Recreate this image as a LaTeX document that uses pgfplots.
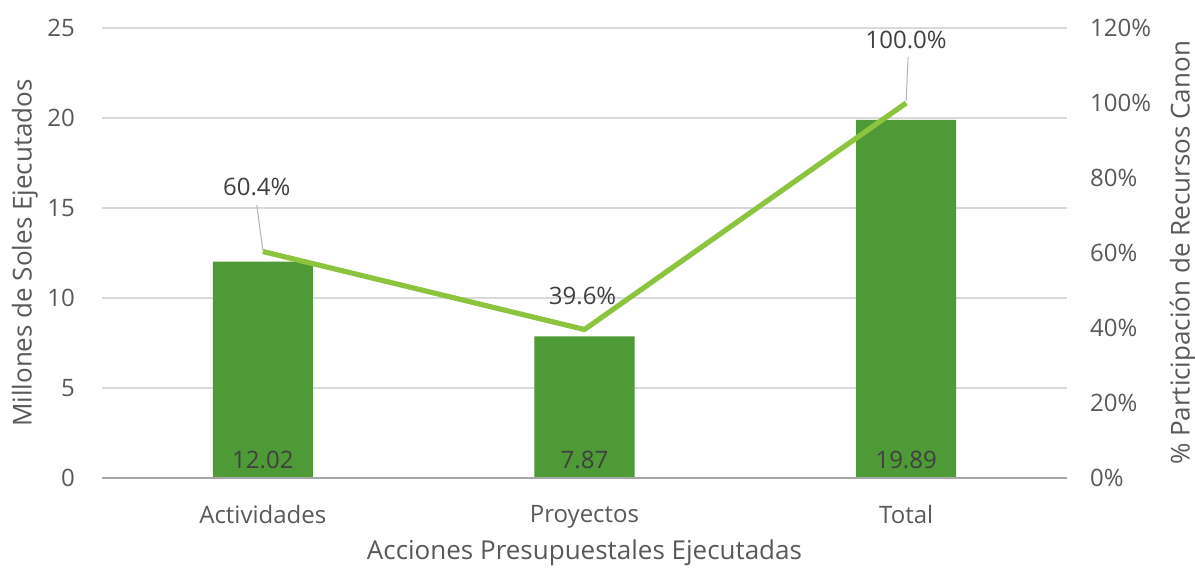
\documentclass[border=0pt]{standalone}
\usepackage{fontspec}
\setmainfont{Open Sans}
\usepackage{pgfplots}
\pgfplotsset{compat=1.18}
\definecolor{bargreen}{HTML}{4E9A36}
\definecolor{linegreen}{HTML}{8DC43F}
\definecolor{tickgray}{HTML}{595959}
\definecolor{gridgray}{HTML}{D9D9D9}
\definecolor{labelgray}{HTML}{404040}
\begin{document}
\begin{tikzpicture}
\begin{axis}[
  scale only axis, width=482.5pt, height=225pt,
  xmin=-0.5, xmax=2.5, ymin=0, ymax=25,
  xtick={0,1,2}, xticklabels={Actividades,Proyectos,Total},
  ytick={0,5,...,25},
  ymajorgrids, grid style={gridgray, line width=0.6pt},
  axis line style={draw=none},
  major tick length=0pt,
  clip=false,
  /pgf/number format/assume math mode=true,
  tick label style={font=\fontsize{12}{14}\selectfont, text=tickgray},
  yticklabel style={anchor=east, xshift=-10pt},
  xticklabel style={yshift=-10pt},
  xlabel={Acciones Presupuestales Ejecutadas},
  ylabel={Millones de Soles Ejecutados},
  label style={font=\fontsize{13}{15}\selectfont, text=tickgray},
  xlabel style={at={(axis description cs:0.5,-0.1667)}, anchor=center},
  ylabel style={at={(axis description cs:-0.0798,0.5)}, anchor=center},
]
\addplot[ybar, bar width=50pt, bar shift=0pt, fill=bargreen, draw=none]
  coordinates {(0,12.02) (1,7.87) (2,19.89)};
\draw[gray!70, line width=0.6pt] (axis cs:-0.5,0) -- (axis cs:2.5,0);
\node[font=\fontsize{12}{14}\selectfont, text=labelgray] at (axis cs:0,1) {12.02};
\node[font=\fontsize{12}{14}\selectfont, text=labelgray] at (axis cs:1,1) {7.87};
\node[font=\fontsize{12}{14}\selectfont, text=labelgray] at (axis cs:2,1) {19.89};
\end{axis}
\begin{axis}[
  scale only axis, width=482.5pt, height=225pt,
  xmin=-0.5, xmax=2.5, ymin=0, ymax=120,
  hide x axis,
  axis y line*=right,
  axis line style={draw=none},
  major tick length=0pt,
  ytick={0,20,...,120},
  yticklabel={\pgfmathprintnumber{\tick}\%},
  clip=false,
  /pgf/number format/assume math mode=true,
  tick label style={font=\fontsize{12}{14}\selectfont, text=tickgray},
  yticklabel style={anchor=west, xshift=8pt},
  ylabel={\% Participación de Recursos Canon},
  label style={font=\fontsize{13}{15}\selectfont, text=tickgray},
  ylabel style={at={(axis description cs:1.120,0.5)}, anchor=center},
]
\addplot[linegreen, line width=2.6pt, line join=round, mark=none]
  coordinates {(0,60.4) (1,39.6) (2,100.0)};
\draw[gray!60, line width=0.5pt] (axis cs:-0.019,72.8) -- (axis cs:0,60.8);
\draw[gray!60, line width=0.5pt] (axis cs:2.006,112.3) -- (axis cs:2,100.6);
\node[font=\fontsize{12}{14}\selectfont, text=labelgray] at (axis cs:-0.019,77.6) {60.4\%};
\node[font=\fontsize{12}{14}\selectfont, text=labelgray] at (axis cs:0.994,48.5) {39.6\%};
\node[font=\fontsize{12}{14}\selectfont, text=labelgray] at (axis cs:2,116.8) {100.0\%};
\end{axis}
\pgfresetboundingbox
\path (current axis.south west) ++(-51pt,-46pt) rectangle ++(597.5pt,285pt);
\end{tikzpicture}
\end{document}
